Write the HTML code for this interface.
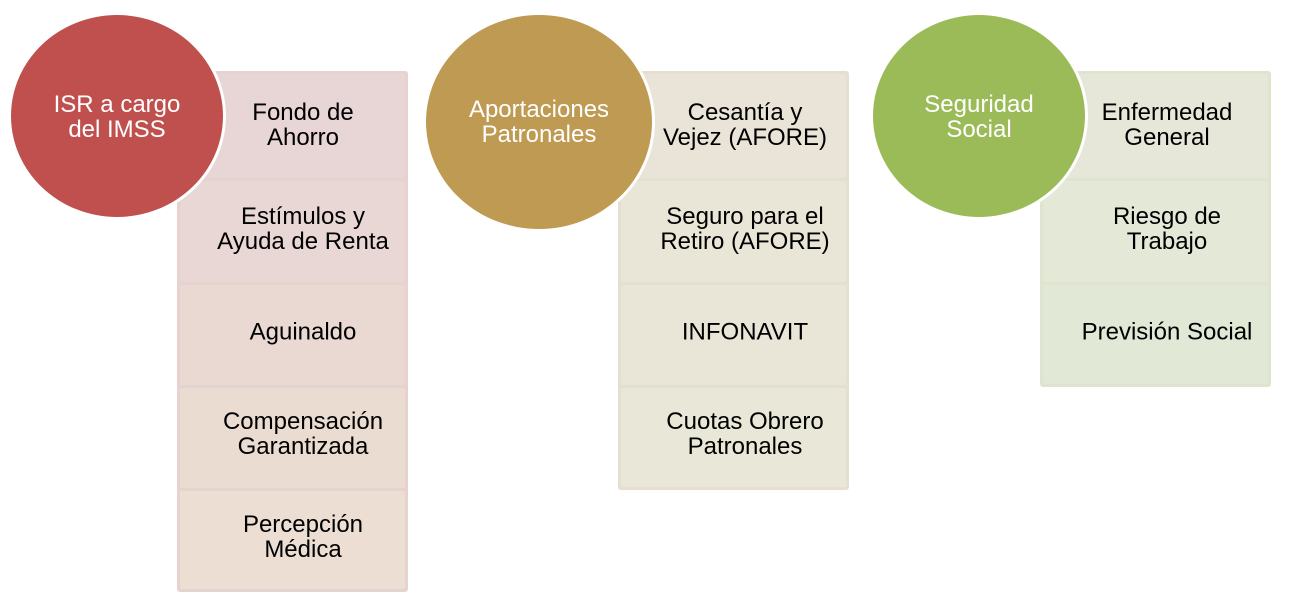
<!DOCTYPE html>
<html><head><meta charset="utf-8"><style>
body{margin:0;width:1289px;height:600px;background:#fff;position:relative;overflow:hidden;font-family:"Liberation Sans",Arial,sans-serif}
.box{position:absolute;border-radius:3px}
.row{position:absolute;left:3px;right:3px;border-radius:2px}
.t{position:absolute;width:260px;text-align:center;font-size:24px;line-height:25px;color:#000;transform:translate(-50%,-50%)}
.c{position:absolute;border-radius:50%;border:3px solid #fff;box-sizing:border-box}
.ct{position:absolute;width:220px;text-align:center;font-size:24px;line-height:25px;color:#fff;transform:translate(-50%,-50%)}
</style></head><body>

<div class="box" style="left:177px;top:71px;width:231px;height:521px;background:#e6d2cf">
 <div class="row" style="top:3px;height:104px;background:#e8d5d5"></div>
 <div class="row" style="top:110px;height:101px;background:#e9d7d5"></div>
 <div class="row" style="top:214px;height:100px;background:#ead9d3"></div>
 <div class="row" style="top:317px;height:100px;background:#ebdcd2"></div>
 <div class="row" style="top:420px;height:98px;background:#ecded2"></div>
</div>
<div class="t" style="left:303px;top:125px">Fondo de<br>Ahorro</div>
<div class="t" style="left:303px;top:229px">Estímulos y<br>Ayuda de Renta</div>
<div class="t" style="left:303px;top:332px">Aguinaldo</div>
<div class="t" style="left:303px;top:434px">Compensación<br>Garantizada</div>
<div class="t" style="left:303px;top:537px">Percepción<br>Médica</div>

<div class="box" style="left:618px;top:71px;width:231px;height:419px;background:#e5dfcf">
 <div class="row" style="top:3px;height:104px;background:#eae3d7"></div>
 <div class="row" style="top:110px;height:101px;background:#e9e5d7"></div>
 <div class="row" style="top:214px;height:100px;background:#e9e6d7"></div>
 <div class="row" style="top:317px;height:99px;background:#e9e7d7"></div>
</div>
<div class="t" style="left:745px;top:125px">Cesantía y<br>Vejez (AFORE)</div>
<div class="t" style="left:745px;top:229px">Seguro para el<br>Retiro (AFORE)</div>
<div class="t" style="left:745px;top:332px">INFONAVIT</div>
<div class="t" style="left:745px;top:434px">Cuotas Obrero<br>Patronales</div>

<div class="box" style="left:1040px;top:71px;width:231px;height:316px;background:#dfe4cf">
 <div class="row" style="top:3px;height:104px;background:#e6e7d8"></div>
 <div class="row" style="top:110px;height:101px;background:#e3e8d7"></div>
 <div class="row" style="top:214px;height:99px;background:#e1e8d5"></div>
</div>
<div class="t" style="left:1167px;top:125px">Enfermedad<br>General</div>
<div class="t" style="left:1167px;top:229px">Riesgo de<br>Trabajo</div>
<div class="t" style="left:1167px;top:332px">Previsión Social</div>

<div class="c" style="left:8px;top:12px;width:218px;height:208px;background:#c0504d"></div>
<div class="ct" style="left:117px;top:117px">ISR a cargo<br>del IMSS</div>
<div class="c" style="left:423px;top:12px;width:232px;height:220px;background:#be9a52"></div>
<div class="ct" style="left:539px;top:122px">Aportaciones<br>Patronales</div>
<div class="c" style="left:870px;top:12px;width:218px;height:208px;background:#9bbb59"></div>
<div class="ct" style="left:979px;top:117px">Seguridad<br>Social</div>
</body></html>
